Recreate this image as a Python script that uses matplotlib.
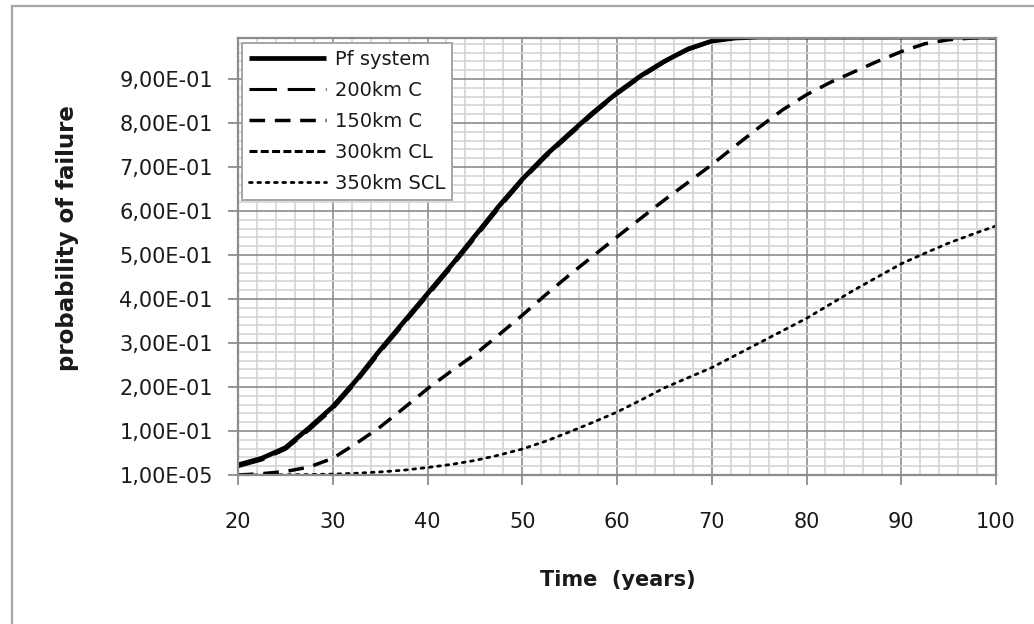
import numpy as np
import matplotlib
matplotlib.use("Agg")
import matplotlib.pyplot as plt
from matplotlib.patches import Rectangle


# ------------------------------------------------------------
# Data
# ------------------------------------------------------------
YEARS = [20, 22.5, 25, 27.5, 30, 32.5, 35, 37.5, 40, 42.5, 45, 47.5, 50,
         52.5, 55, 57.5, 60, 62.5, 65, 67.5, 70, 72.5, 75, 77.5, 80,
         82.5, 85, 87.5, 90, 92.5, 95, 97.5, 100]

PF_SYSTEM = [0.023, 0.038, 0.062, 0.107, 0.155, 0.216, 0.284, 0.348, 0.412,
             0.476, 0.543, 0.610, 0.672, 0.727, 0.776, 0.824, 0.868, 0.907,
             0.940, 0.968, 0.986, 0.993, 0.995, 0.995, 0.995, 0.995, 0.995,
             0.995, 0.995, 0.995, 0.995, 0.995, 0.995]

KM200_C = [0.019, 0.034, 0.058, 0.102, 0.150, 0.211, 0.279, 0.343, 0.407,
           0.471, 0.538, 0.605, 0.668, 0.723, 0.772, 0.820, 0.865, 0.904,
           0.938, 0.966, 0.985, 0.993, 0.995, 0.995, 0.995, 0.995, 0.995,
           0.995, 0.995, 0.995, 0.995, 0.995, 0.995]

KM150_C = [0.000, 0.003, 0.008, 0.018, 0.038, 0.072, 0.109, 0.152, 0.196,
           0.236, 0.274, 0.318, 0.363, 0.410, 0.455, 0.498, 0.541, 0.583,
           0.625, 0.665, 0.705, 0.748, 0.790, 0.830, 0.864, 0.892, 0.916,
           0.940, 0.962, 0.980, 0.989, 0.993, 0.994]

# not visible in the chart: stays below the axis minimum
KM300_CL = [1e-6] * len(YEARS)

KM350_SCL = [0.000, 0.000, 0.0005, 0.001, 0.002, 0.004, 0.007, 0.011, 0.017,
             0.024, 0.033, 0.045, 0.059, 0.077, 0.098, 0.120, 0.143, 0.170,
             0.198, 0.221, 0.244, 0.272, 0.300, 0.328, 0.356, 0.388, 0.420,
             0.450, 0.480, 0.504, 0.527, 0.547, 0.566]

X_TICKS = [20, 30, 40, 50, 60, 70, 80, 90, 100]
Y_TICKS = [1e-5, 0.1, 0.2, 0.3, 0.4, 0.5, 0.6, 0.7, 0.8, 0.9]
Y_TICK_LABELS = ["1,00E-05", "1,00E-01", "2,00E-01", "3,00E-01", "4,00E-01",
                 "5,00E-01", "6,00E-01", "7,00E-01", "8,00E-01", "9,00E-01"]

Y_MIN = 1e-5
Y_MAX = 0.993


# ------------------------------------------------------------
# Figure
# ------------------------------------------------------------
plt.rcParams["font.family"] = ["DejaVu Sans"]

fig = plt.figure(figsize=(10.34, 6.24), dpi=100)
W, H = 1034, 624

# outer chart frame (extends past right/bottom edges)
fig.patches.append(Rectangle((12 / W, -0.05), 1.2, 1 - 6 / H + 0.05,
                             transform=fig.transFigure, fill=False,
                             edgecolor="#a6a6a6", linewidth=1.6))

ax = fig.add_axes([238 / W, 1 - 475 / H, (996 - 238) / W, (475 - 38) / H])

grid_major = "#8c8c8c"
grid_minor = "#d4d4d4"

ax.set_xlim(20, 100)
ax.set_ylim(Y_MIN, Y_MAX)

ax.set_xticks(X_TICKS)
ax.set_xticks(np.arange(20, 101, 2), minor=True)
ax.set_yticks(Y_TICKS)
ax.set_yticklabels(Y_TICK_LABELS)
ax.set_yticks(np.arange(0.02, Y_MAX, 0.02), minor=True)

ax.grid(True, which="minor", color=grid_minor, linewidth=1.2, zorder=0)
ax.grid(True, which="major", color=grid_major, linewidth=1.2, zorder=0)
ax.set_axisbelow(True)

ax.tick_params(which="major", direction="out", length=7, width=1.3,
               color=grid_major, labelsize=15, labelcolor="#1a1a1a")
ax.tick_params(axis="y", which="major", pad=11)
ax.tick_params(axis="x", which="major", pad=20)
ax.tick_params(which="minor", length=0)

for spine in ax.spines.values():
    spine.set_color(grid_major)
    spine.set_linewidth(1.6)

# ------------------------------------------------------------
# Curves
# ------------------------------------------------------------
ax.plot(YEARS, PF_SYSTEM, color="black", linewidth=3.4,
        solid_capstyle="butt", label="Pf system")
ax.plot(YEARS, KM200_C, color="black", linewidth=2.2,
        dashes=(9, 3.5), label="200km C")
ax.plot(YEARS, KM150_C, color="black", linewidth=2.5,
        dashes=(4.5, 2.8), label="150km C")
ax.plot(YEARS, np.ma.masked_less(KM300_CL, Y_MIN), color="black",
        linewidth=2.2, dashes=(2.6, 1.1), label="300km CL")
ax.plot(YEARS, KM350_SCL, color="black", linewidth=2.0,
        dashes=(1.0, 2.0), dash_capstyle="round", label="350km SCL")

leg = ax.legend(loc="upper left", bbox_to_anchor=(0.005, 0.9886),
                borderaxespad=0, fontsize=14, handlelength=4.0,
                handletextpad=0.45, labelspacing=0.62, borderpad=0.35,
                fancybox=False, framealpha=1, edgecolor="#a6a6a6")
leg.get_frame().set_linewidth(1.4)
for t in leg.get_texts():
    t.set_color("#1a1a1a")

# axis titles
fig.text(618 / W, 1 - 580 / H, "Time  (years)", ha="center", va="center",
         fontsize=15, fontweight="bold", color="#1a1a1a")
fig.text(68 / W, 1 - 238 / H, "probability of failure", ha="center",
         va="center", rotation=90, fontsize=16.5, fontweight="bold",
         color="#1a1a1a")

fig.savefig("out.png", dpi=100)
